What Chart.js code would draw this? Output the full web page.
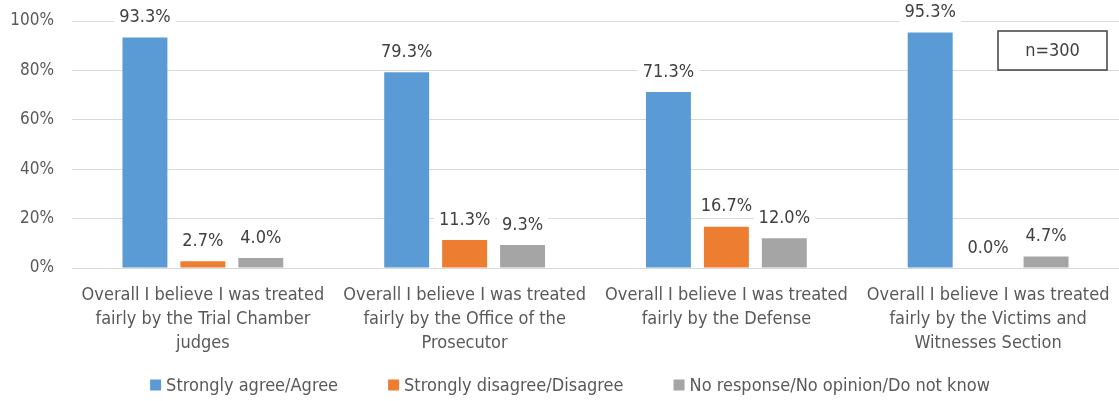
<!DOCTYPE html>
<html>
<head>
<meta charset="utf-8">
<script src="https://cdn.jsdelivr.net/npm/chart.js@4/dist/chart.umd.min.js"></script>
<style>
html,body{margin:0;padding:0;background:#fff;}
#wrap{width:1119px;height:401px;position:relative;}
</style>
</head>
<body>
<div id="wrap"><canvas id="c" width="1119" height="401"></canvas></div>
<script>
const categories = [
  ["Overall I believe I was treated","fairly by the Trial Chamber","judges"],
  ["Overall I believe I was treated","fairly by the Office of the","Prosecutor"],
  ["Overall I believe I was treated","fairly by the Defense"],
  ["Overall I believe I was treated","fairly by the Victims and","Witnesses Section"]
];
const seriesNames = ["Strongly agree/Agree","Strongly disagree/Disagree","No response/No opinion/Do not know"];
const agree = [93.3, 79.3, 71.3, 95.3];
const disagree = [2.7, 11.3, 16.7, 0.0];
const noResponse = [4.0, 9.3, 12.0, 4.7];
const yTicks = [0, 20, 40, 60, 80, 100];
const noteText = "n=300";

const FONT = "'Liberation Sans Narrow', 'DejaVu Sans Condensed', 'Liberation Sans', sans-serif";

const labelPlugin = {
  id: 'valueLabels',
  afterDatasetsDraw(chart) {
    const ctx = chart.ctx;
    ctx.save();
    ctx.font = "18px " + FONT;
    ctx.textAlign = 'center';
    ctx.textBaseline = 'middle';
    chart.data.datasets.forEach((ds, i) => {
      const meta = chart.getDatasetMeta(i);
      meta.data.forEach((bar, j) => {
        const txt = ds.data[j].toFixed(1) + '%';
        const w = ctx.measureText(txt).width;
        const y = bar.y - 20;
        ctx.fillStyle = '#ffffff';
        ctx.fillRect(bar.x - w/2 - 5, y - 11, w + 10, 22);
        ctx.fillStyle = '#404040';
        ctx.fillText(txt, bar.x, y);
      });
    });
    // note box
    const a = chart.chartArea;
    const bx = a.right - 121, by = a.top + 10, bw = 109, bh = 39;
    ctx.fillStyle = '#ffffff';
    ctx.fillRect(bx, by, bw, bh);
    ctx.strokeStyle = '#404040';
    ctx.lineWidth = 1.5;
    ctx.strokeRect(bx, by, bw, bh);
    ctx.fillStyle = '#404040';
    ctx.fillText(noteText, bx + bw/2, by + bh/2 + 1);

    // legend
    ctx.font = "18px " + FONT;
    ctx.textAlign = 'left';
    const box = 11, gapText = 5, gapItem = 50;
    const items = chart.data.datasets.map(ds => ({t: ds.label, c: ds.backgroundColor, w: box + gapText + ctx.measureText(ds.label).width}));
    const total = items.reduce((s, it) => s + it.w, 0) + gapItem * (items.length - 1);
    let x = 570 - total / 2;
    const ly = chart.height - 16;
    items.forEach(it => {
      ctx.fillStyle = it.c;
      ctx.fillRect(x, ly - box/2, box, box);
      ctx.fillStyle = '#595959';
      ctx.fillText(it.t, x + box + gapText, ly + 1);
      x += it.w + gapItem;
    });
    ctx.restore();
  }
};

new Chart(document.getElementById('c'), {
  type: 'bar',
  data: {
    labels: categories,
    datasets: [
      {label: seriesNames[0], data: agree, backgroundColor: '#5b9bd5'},
      {label: seriesNames[1], data: disagree, backgroundColor: '#ed7d31'},
      {label: seriesNames[2], data: noResponse, backgroundColor: '#a5a5a5'}
    ]
  },
  options: {
    responsive: false,
    animation: false,
    devicePixelRatio: 1,
    layout: {padding: {top: 21, left: 0, right: 0, bottom: 0}},
    datasets: {bar: {categoryPercentage: 0.664, barPercentage: 0.776}},
    plugins: {
      legend: {display: false},
      tooltip: {enabled: false}
    },
    scales: {
      x: {
        grid: {display: false, drawTicks: false},
        border: {color: '#d9d9d9', width: 1},
        ticks: {font: {family: FONT, size: 18, lineHeight: 1.33}, color: '#595959', maxRotation: 0, autoSkip: false, padding: 15},
        afterFit(s) { s.height = 133; s.paddingLeft = 0; s.paddingRight = 0; }
      },
      y: {
        min: 0, max: 100,
        afterBuildTicks(s) { s.ticks = yTicks.map(v => ({value: v})); },
        grid: {color: '#d9d9d9', drawTicks: false},
        border: {display: false},
        ticks: {font: {family: FONT, size: 17}, color: '#595959', padding: 18, callback: v => v + '%'},
        afterFit(s) { s.width = 72; s.paddingTop = 0; s.paddingBottom = 0; }
      }
    }
  },
  plugins: [labelPlugin]
});
</script>
</body>
</html>
